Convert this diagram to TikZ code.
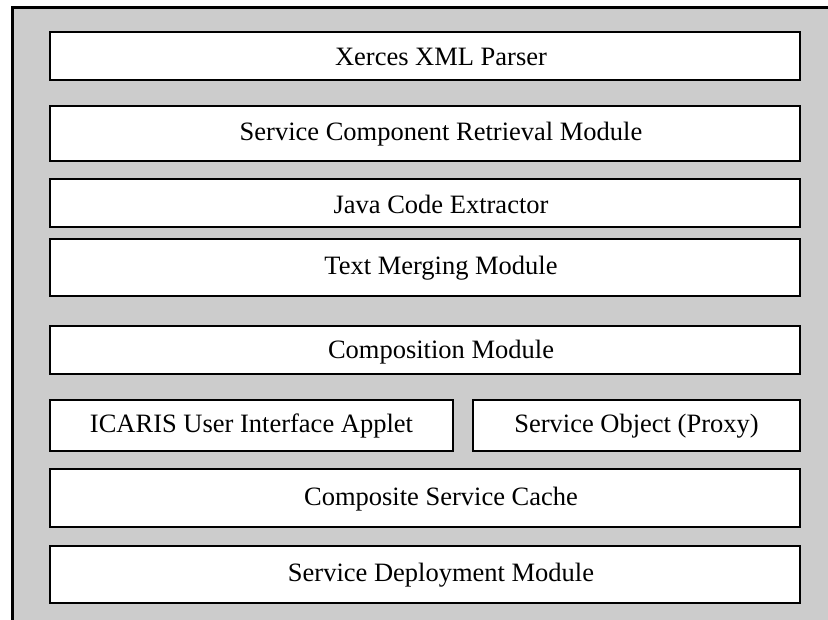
\documentclass[tikz,border=0pt]{standalone}
\usepackage{fontspec}
\setmainfont{Liberation Serif}
\usepackage{tikz}

\begin{document}
\begin{tikzpicture}[x=1pt, y=-1pt,
    layer/.style={draw=black, line width=2.6pt, fill=white},
    lbl/.style={font=\fontsize{26.5}{30}\selectfont, inner sep=0pt}]
    \useasboundingbox (0,0) rectangle (828,620);
    % Background frame
    \draw[line width=3pt, fill=black!20] (12,8) rectangle (850,650);

    % Parsing and retrieval
    \draw[layer] (50,32) rectangle (800,80);
    \node[lbl] (xerces) at (441,57) {Xerces XML Parser};
    \draw[layer] (50,106) rectangle (800,161);
    \node[lbl] (retrieval) at (441,134) {Service Component Retrieval Module};

    % Extraction and merging
    \draw[layer] (50,179) rectangle (800,227);
    \node[lbl] (extractor) at (441,204) {Java Code Extractor};
    \draw[layer] (50,239) rectangle (800,296);
    \node[lbl] (merging) at (441,268) {Text Merging Module};

    % Composition
    \draw[layer] (50,326) rectangle (800,374);
    \node[lbl] (composition) at (441,352) {Composition Module};

    % Applet and proxy
    \draw[layer] (50,400) rectangle (453,451);
    \node[lbl] (applet) at (251.5,426) {ICARIS User Interface Applet};
    \draw[layer] (473,400) rectangle (800,451);
    \node[lbl] (proxy) at (636.5,426) {Service Object (Proxy)};

    % Cache and deployment
    \draw[layer] (50,469) rectangle (800,527);
    \node[lbl] (cache) at (441,499) {Composite Service Cache};
    \draw[layer] (50,546) rectangle (800,603);
    \node[lbl] (deployment) at (441,575) {Service Deployment Module};
\end{tikzpicture}
\end{document}
